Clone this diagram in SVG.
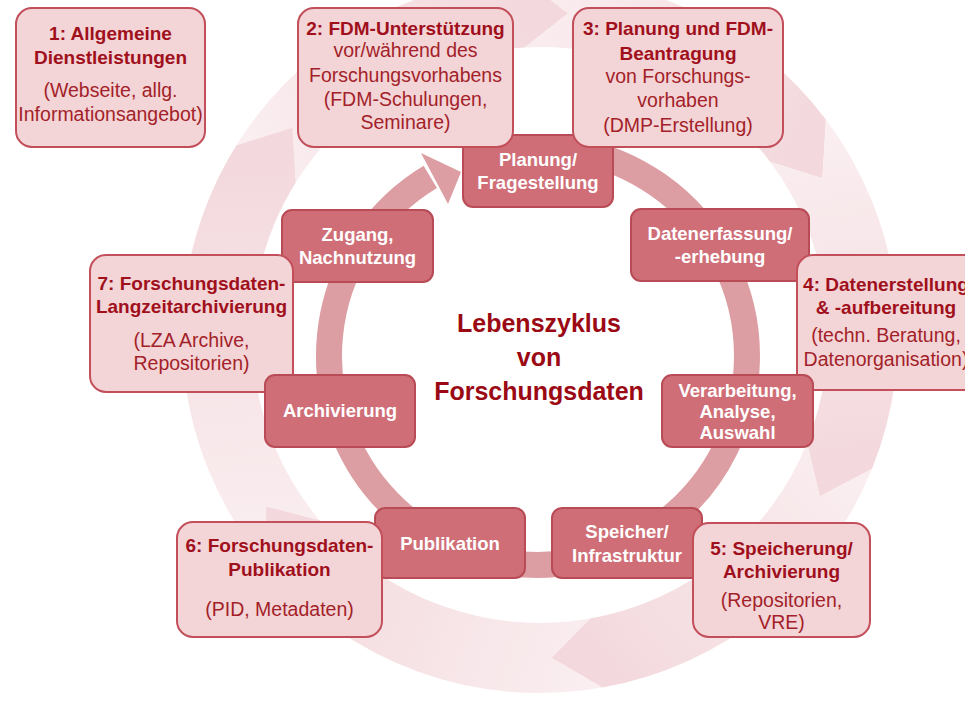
<svg xmlns="http://www.w3.org/2000/svg" width="965" height="705" viewBox="0 0 965 705">
<defs>
<style>
.lb{fill:#f3d4d7;stroke:#c24f5a;stroke-width:2}
.db{fill:#cf6e77;stroke:#b84b55;stroke-width:2}
text{font-family:"Liberation Sans",Arial,sans-serif;text-anchor:middle}
.tb{font-weight:bold;font-size:19px;fill:#a0101c}
.ts{font-size:19.5px;fill:#a31f29}
.tw{font-weight:bold;font-size:18.5px;fill:#ffffff}
.tc{font-weight:bold;font-size:25px;fill:#9b0a14}
.seg{stroke:none}
</style>
<linearGradient id="g1" gradientUnits="userSpaceOnUse" x1="266.1" y1="163.8" x2="523.1" y2="12.4"><stop offset="0" stop-color="#faeef0"/><stop offset="1" stop-color="#f3d9dd"/></linearGradient>
<linearGradient id="g2" gradientUnits="userSpaceOnUse" x1="523.1" y1="12.4" x2="798.0" y2="140.6"><stop offset="0" stop-color="#faeef0"/><stop offset="1" stop-color="#f3d9dd"/></linearGradient>
<linearGradient id="g3" gradientUnits="userSpaceOnUse" x1="798.0" y1="140.6" x2="839.5" y2="456.0"><stop offset="0" stop-color="#faeef0"/><stop offset="1" stop-color="#f3d9dd"/></linearGradient>
<linearGradient id="g4" gradientUnits="userSpaceOnUse" x1="839.5" y1="456.0" x2="596.1" y2="653.1"><stop offset="0" stop-color="#faeef0"/><stop offset="1" stop-color="#f3d9dd"/></linearGradient>
<linearGradient id="g5" gradientUnits="userSpaceOnUse" x1="596.1" y1="653.1" x2="292.6" y2="542.6"><stop offset="0" stop-color="#faeef0"/><stop offset="1" stop-color="#f3d9dd"/></linearGradient>
<linearGradient id="g6" gradientUnits="userSpaceOnUse" x1="292.6" y1="542.6" x2="266.1" y2="163.8"><stop offset="0" stop-color="#faeef0"/><stop offset="1" stop-color="#f3d9dd"/></linearGradient>
</defs>
<rect x="0" y="0" width="965" height="705" fill="#ffffff"/>
<g id="background-cycle">
<path class="seg" fill="url(#g1)" d="M236.4,145.3 A358,358 0 0 1 521.3,-22.5 L568.2,13.2 L524.9,47.4 A288,288 0 0 0 295.8,182.4 L292.6,127.4 Z"/>
<path class="seg" fill="url(#g2)" d="M521.3,-22.5 A358,358 0 0 1 825.9,119.6 L822.5,178.4 L770.0,161.7 A288,288 0 0 0 524.9,47.4 L568.2,13.2 Z"/>
<path class="seg" fill="url(#g3)" d="M825.9,119.6 A358,358 0 0 1 871.9,469.1 L819.7,496.5 L807.0,442.9 A288,288 0 0 0 770.0,161.7 L822.5,178.4 Z"/>
<path class="seg" fill="url(#g4)" d="M871.9,469.1 A358,358 0 0 1 602.2,687.6 L551.3,657.8 L590.0,618.6 A288,288 0 0 0 807.0,442.9 L819.7,496.5 Z"/>
<path class="seg" fill="url(#g5)" d="M602.2,687.6 A358,358 0 0 1 265.8,565.1 L266.1,506.2 L319.4,520.1 A288,288 0 0 0 590.0,618.6 L551.3,657.8 Z"/>
<path class="seg" fill="url(#g6)" d="M265.8,565.1 A358,358 0 0 1 236.4,145.3 L292.6,127.4 L295.8,182.4 A288,288 0 0 0 319.4,520.1 L266.1,506.2 Z"/>
</g>
<g id="connectors">
<path d="M574.3,150.2 A209,209 0 1 1 430.3,176.9" fill="none" stroke="#dd9ea3" stroke-width="26"/>
<polygon points="421,153 461,172 448,204" fill="#dd9ea3"/>
</g>
<g id="step-planung"><rect class="db" x="463" y="135" width="150" height="72" rx="10"/><text class="tw" x="538" y="166">Planung/</text><text class="tw" x="538" y="189">Fragestellung</text></g>
<g id="step-zugang"><rect class="db" x="282" y="210" width="151" height="72" rx="10"/><text class="tw" x="357.5" y="241">Zugang,</text><text class="tw" x="357.5" y="264">Nachnutzung</text></g>
<g id="step-datenerfassung"><rect class="db" x="631" y="209" width="178" height="72" rx="10"/><text class="tw" x="720" y="240">Datenerfassung/</text><text class="tw" x="720" y="263">-erhebung</text></g>
<g id="step-speicher"><rect class="db" x="552" y="508" width="150" height="70" rx="10"/><text class="tw" x="627" y="538">Speicher/</text><text class="tw" x="627" y="562">Infrastruktur</text></g>
<g id="step-publikation"><rect class="db" x="375" y="508" width="150" height="70" rx="10"/><text class="tw" x="450" y="550">Publikation</text></g>
<g id="title"><text class="tc" x="539" y="332">Lebenszyklus</text><text class="tc" x="539" y="366">von</text><text class="tc" x="539" y="400">Forschungsdaten</text></g>
<g id="box1"><rect class="lb" x="16" y="8" width="189" height="139" rx="16"/><text class="tb" x="110.5" y="40">1: Allgemeine</text><text class="tb" x="110.5" y="64">Dienstleistungen</text><text class="ts" x="110.5" y="97">(Webseite, allg.</text><text class="ts" x="110.5" y="121">Informationsangebot)</text></g>
<g id="box2"><rect class="lb" x="298" y="8" width="215" height="139" rx="16"/><text class="tb" x="405.5" y="35">2: FDM-Unterstützung</text><text class="ts" x="405.5" y="57">vor/während des</text><text class="ts" x="405.5" y="82">Forschungsvorhabens</text><text class="ts" x="405.5" y="106">(FDM-Schulungen,</text><text class="ts" x="405.5" y="129">Seminare)</text></g>
<g id="box3"><rect class="lb" x="573" y="8" width="210" height="139" rx="16"/><text class="tb" x="678" y="35">3: Planung und FDM-</text><text class="tb" x="678" y="60">Beantragung</text><text class="ts" x="678" y="83">von Forschungs-</text><text class="ts" x="678" y="107">vorhaben</text><text class="ts" x="678" y="132">(DMP-Erstellung)</text></g>
<g id="box4"><rect class="lb" x="797" y="255" width="190" height="135" rx="16"/><text class="tb" x="886" y="291">4: Datenerstellung</text><text class="tb" x="886" y="314">&amp; -aufbereitung</text><text class="ts" x="886" y="342">(techn. Beratung,</text><text class="ts" x="886" y="366">Datenorganisation)</text></g>
<g id="box5"><rect class="lb" x="693" y="523" width="177" height="114" rx="16"/><text class="tb" x="781.5" y="555">5: Speicherung/</text><text class="tb" x="781.5" y="578">Archivierung</text><text class="ts" x="781.5" y="607">(Repositorien,</text><text class="ts" x="781.5" y="629">VRE)</text></g>
<g id="box6"><rect class="lb" x="177" y="522" width="205" height="115" rx="16"/><text class="tb" x="279.5" y="552">6: Forschungsdaten-</text><text class="tb" x="279.5" y="576">Publikation</text><text class="ts" x="279.5" y="616">(PID, Metadaten)</text></g>
<g id="box7"><rect class="lb" x="90" y="255" width="203" height="137" rx="16"/><text class="tb" x="191.5" y="290">7: Forschungsdaten-</text><text class="tb" x="191.5" y="313">Langzeitarchivierung</text><text class="ts" x="191.5" y="347">(LZA Archive,</text><text class="ts" x="191.5" y="370">Repositorien)</text></g>
<g id="step-verarbeitung"><rect class="db" x="662" y="375" width="151" height="72" rx="10"/><text class="tw" x="737.5" y="397">Verarbeitung,</text><text class="tw" x="737.5" y="418">Analyse,</text><text class="tw" x="737.5" y="439">Auswahl</text></g>
<g id="step-archivierung"><rect class="db" x="265" y="375" width="150" height="72" rx="10"/><text class="tw" x="340" y="417">Archivierung</text></g>
</svg>
